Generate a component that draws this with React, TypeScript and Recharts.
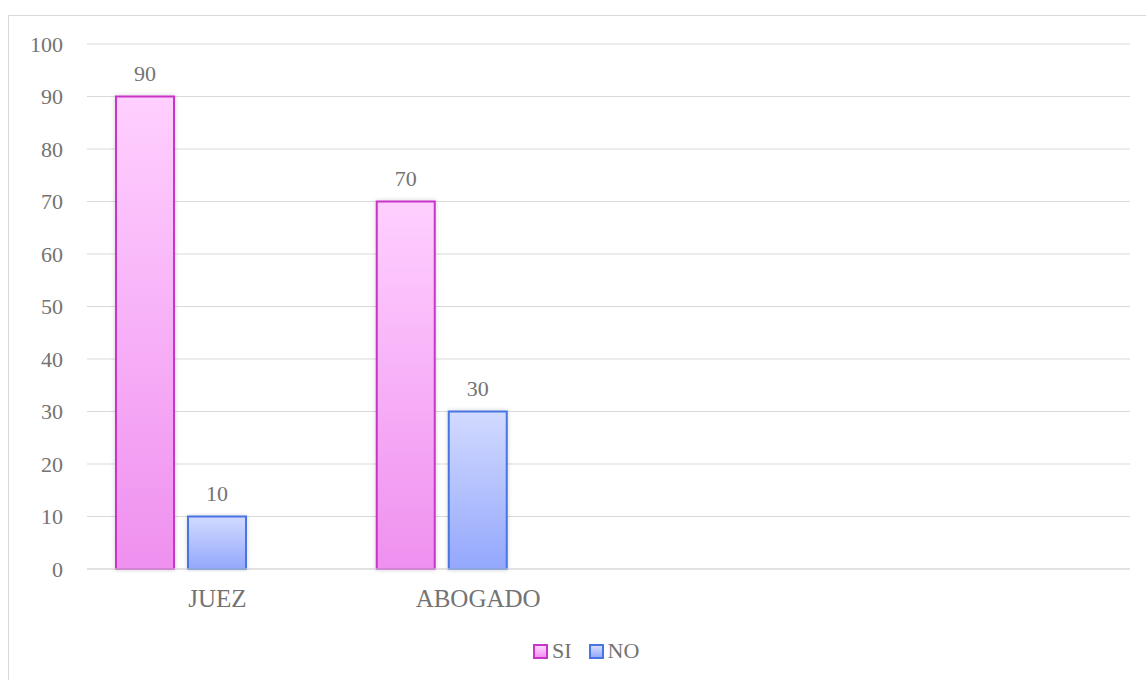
import React from "react";
import {
  BarChart,
  Bar,
  XAxis,
  YAxis,
  CartesianGrid,
  Legend,
  LabelList,
} from "recharts";

// categories: Excel-style sheet with two unused rows at the end
const categories = ["JUEZ", "ABOGADO", " ", "  "];
const siValues = [90, 70, null, null];
const noValues = [10, 30, null, null];
// third series column is empty, but it still reserves its slot in each group
const emptyValues = [null, null, null, null];
const yTicks = [0, 10, 20, 30, 40, 50, 60, 70, 80, 90, 100];

const data = categories.map((name, i) => ({
  name,
  SI: siValues[i],
  NO: noValues[i],
  extra: emptyValues[i],
}));

const FONT = "Liberation Serif, DejaVu Serif, serif";
const TEXT = "#737373";
const GRID = "#d9d9d9";

const legendItems = [
  { name: "SI", stroke: "#c935c9", top: "#ffd6ff", bottom: "#f192f1" },
  { name: "NO", stroke: "#4674e2", top: "#d4dcff", bottom: "#96aafc" },
];

function LegendContent() {
  return (
    <div style={{ display: "flex", alignItems: "center", fontFamily: FONT, fontSize: 22, color: TEXT }}>
      {legendItems.map((it) => (
        <div key={it.name} style={{ display: "flex", alignItems: "center", marginRight: 17 }}>
          <span
            style={{
              display: "inline-block",
              width: 11,
              height: 11,
              border: `2px solid ${it.stroke}`,
              background: `linear-gradient(${it.top}, ${it.bottom})`,
              marginRight: 4,
            }}
          />
          <span style={{ lineHeight: "22px" }}>{it.name}</span>
        </div>
      ))}
    </div>
  );
}

export default function App() {
  return (
    <div
      style={{
        position: "absolute",
        left: 8,
        top: 15,
        width: 1137,
        height: 665,
        borderTop: `1px solid ${GRID}`,
        borderLeft: `1px solid ${GRID}`,
        background: "#fff",
      }}
    >
      <BarChart
        width={1137}
        height={664}
        data={data}
        margin={{ top: 28, right: 16, left: 0, bottom: 0 }}
        barCategoryGap={29}
        barGap={14}
      >
        <defs>
          <linearGradient id="gradSi" x1="0" y1="0" x2="0" y2="1">
            <stop offset="0%" stopColor="#ffd0ff" />
            <stop offset="100%" stopColor="#ef90ef" />
          </linearGradient>
          <linearGradient id="gradNo" x1="0" y1="0" x2="0" y2="1">
            <stop offset="0%" stopColor="#d2daff" />
            <stop offset="100%" stopColor="#94a8fc" />
          </linearGradient>
          <filter id="barShadow" x="-20%" y="-5%" width="140%" height="110%">
            <feDropShadow dx="0" dy="0" stdDeviation="2" floodColor="#000" floodOpacity="0.18" />
          </filter>
        </defs>
        <CartesianGrid vertical={false} stroke={GRID} strokeWidth={1} />
        <XAxis
          dataKey="name"
          height={89}
          axisLine={{ stroke: GRID }}
          tickLine={false}
          tickSize={0}
          tickMargin={20}
          tick={{ fill: TEXT, fontFamily: FONT, fontSize: 25 }}
          interval={0}
        />
        <YAxis
          width={78}
          domain={[0, 100]}
          ticks={yTicks}
          axisLine={false}
          tickLine={false}
          tickSize={0}
          tickMargin={24}
          tick={{ fill: TEXT, fontFamily: FONT, fontSize: 22 }}
        />
        <Legend
          content={<LegendContent />}
          wrapperStyle={{ position: "absolute", top: 624, left: 524, width: "auto" }}
        />
        <Bar
          dataKey="SI"
          fill="url(#gradSi)"
          stroke="#c935c9"
          strokeWidth={2}
          filter="url(#barShadow)"
          isAnimationActive={false}
        >
          <LabelList
            dataKey="SI"
            position="top"
            offset={16}
            fill={TEXT}
            style={{ fontFamily: FONT, fontSize: 22 }}
          />
        </Bar>
        <Bar
          dataKey="NO"
          fill="url(#gradNo)"
          stroke="#4674e2"
          strokeWidth={2}
          filter="url(#barShadow)"
          isAnimationActive={false}
        >
          <LabelList
            dataKey="NO"
            position="top"
            offset={16}
            fill={TEXT}
            style={{ fontFamily: FONT, fontSize: 22 }}
          />
        </Bar>
        <Bar dataKey="extra" fill="none" legendType="none" isAnimationActive={false} />
      </BarChart>
    </div>
  );
}
